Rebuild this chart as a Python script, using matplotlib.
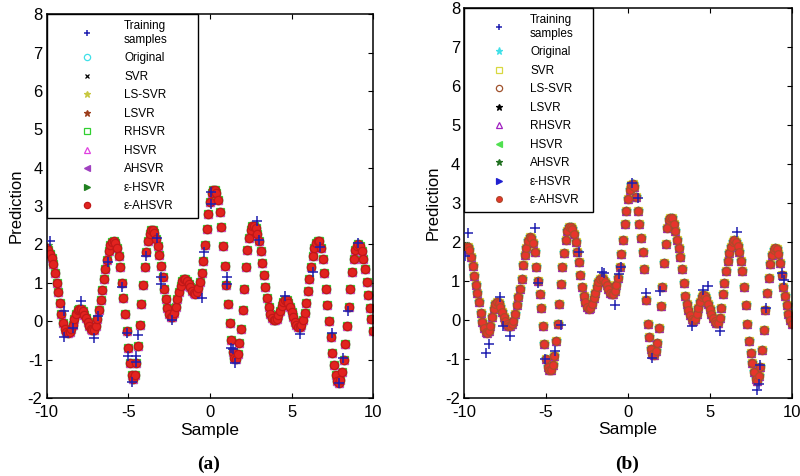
import numpy as np
import matplotlib
matplotlib.use('Agg')
import matplotlib.pyplot as plt

plt.rcParams['font.family'] = ['Liberation Sans', 'DejaVu Sans']
plt.rcParams['axes.unicode_minus'] = False

# predicted curve, panel (a), sampled every 0.1 from -10 to 10
y_a = [1.90, 1.85, 1.75, 1.65, 1.50, 1.25, 1.00, 0.75, 0.48, 0.20,
       -0.05, -0.20, -0.28, -0.30, -0.27, -0.20, -0.10, 0.05, 0.18, 0.28,
       0.33, 0.32, 0.26, 0.17, 0.08, -0.02, -0.12, -0.20, -0.24, -0.22,
       -0.12, 0.05, 0.28, 0.55, 0.82, 1.10, 1.35, 1.60, 1.82, 1.98,
       2.07, 2.10, 2.05, 1.90, 1.70, 1.40, 1.00, 0.60, 0.20, -0.25,
       -0.70, -1.10, -1.40, -1.50, -1.40, -1.10, -0.65, -0.10, 0.45, 0.95,
       1.40, 1.80, 2.10, 2.28, 2.37, 2.37, 2.30, 2.15, 1.95, 1.72,
       1.45, 1.15, 0.85, 0.58, 0.35, 0.20, 0.12, 0.12, 0.22, 0.38,
       0.58, 0.77, 0.93, 1.04, 1.10, 1.10, 1.05, 0.97, 0.88, 0.80,
       0.74, 0.72, 0.76, 0.86, 1.02, 1.25, 1.58, 1.98, 2.40, 2.80,
       3.12, 3.33, 3.42, 3.42, 3.35, 3.15, 2.85, 2.45, 1.95, 1.45,
       0.95, 0.45, -0.05, -0.50, -0.80, -0.95, -0.98, -0.85, -0.58, -0.20,
       0.30, 0.85, 1.40, 1.85, 2.18, 2.38, 2.47, 2.48, 2.42, 2.28,
       2.08, 1.82, 1.52, 1.20, 0.88, 0.60, 0.37, 0.20, 0.09, 0.03,
       0.02, 0.06, 0.15, 0.27, 0.40, 0.50, 0.55, 0.54, 0.47, 0.36,
       0.23, 0.10, -0.02, -0.10, -0.15, -0.16, -0.10, 0.03, 0.22, 0.48,
       0.78, 1.10, 1.42, 1.70, 1.92, 2.05, 2.10, 2.08, 1.92, 1.62,
       1.25, 0.85, 0.42, 0.00, -0.42, -0.82, -1.15, -1.40, -1.55, -1.60,
       -1.52, -1.32, -1.02, -0.60, -0.12, 0.38, 0.85, 1.28, 1.62, 1.85,
       1.97, 2.00, 1.95, 1.82, 1.62, 1.35, 1.02, 0.68, 0.35, 0.05,
       -0.25]

# predicted curve, panel (b)
y_b = [1.85, 1.88, 1.88, 1.80, 1.60, 1.38, 1.12, 0.90, 0.70, 0.45,
       0.18, -0.05, -0.20, -0.32, -0.35, -0.30, -0.15, 0.08, 0.28, 0.40,
       0.45, 0.42, 0.33, 0.20, 0.08, -0.02, -0.10, -0.15, -0.17, -0.12,
       -0.02, 0.15, 0.38, 0.58, 0.78, 1.05, 1.40, 1.65, 1.85, 2.02,
       2.12, 2.10, 1.98, 1.75, 1.35, 1.00, 0.65, 0.30, -0.15, -0.62,
       -1.00, -1.20, -1.30, -1.28, -1.15, -0.92, -0.55, -0.10, 0.40, 0.92,
       1.35, 1.72, 2.05, 2.28, 2.38, 2.38, 2.32, 2.20, 2.00, 1.75,
       1.48, 1.15, 0.85, 0.62, 0.45, 0.34, 0.28, 0.30, 0.40, 0.55,
       0.70, 0.85, 0.97, 1.05, 1.08, 1.05, 0.98, 0.88, 0.78, 0.70,
       0.66, 0.67, 0.75, 0.88, 1.08, 1.35, 1.68, 2.05, 2.45, 2.80,
       3.10, 3.32, 3.45, 3.48, 3.40, 3.15, 2.80, 2.45, 2.10, 1.75,
       1.30, 0.50, -0.10, -0.45, -0.75, -0.88, -0.90, -0.80, -0.60, -0.20,
       0.35, 0.85, 1.45, 1.95, 2.35, 2.55, 2.62, 2.60, 2.47, 2.27,
       2.05, 1.83, 1.60, 1.30, 0.95, 0.62, 0.40, 0.25, 0.12, 0.02,
       -0.03, 0.02, 0.15, 0.30, 0.45, 0.58, 0.64, 0.62, 0.53, 0.40,
       0.27, 0.15, 0.05, -0.04, -0.08, -0.08, 0.05, 0.30, 0.65, 0.95,
       1.25, 1.50, 1.72, 1.88, 2.00, 2.05, 2.00, 1.90, 1.75, 1.52,
       1.25, 0.85, 0.38, -0.10, -0.55, -0.85, -1.12, -1.35, -1.52, -1.58,
       -1.45, -1.20, -0.78, -0.25, 0.25, 0.68, 1.08, 1.42, 1.65, 1.80,
       1.85, 1.82, 1.70, 1.45, 1.15, 0.85, 0.60, 0.38, 0.15, 0.00,
       -0.12]

# noisy training samples that stick out of the curve
train_x_a = [-9.78, -8.92, -8.92, -8.37, -7.9, -7.08, -6.84, -6.27, -5.37, -5.08,
             -5.04, -4.8, -4.53, -4.53, -4.39, -3.94, -3.22, -3.0, -3.0, -2.35,
             -0.51, -0.37, 0.04, 0.04, 1.02, 1.02, 1.29, 1.43, 1.53, 2.9,
             3.0, 4.59, 5.5, 6.3, 6.73, 7.5, 7.9, 8.16, 8.45, 9.1]
train_y_a = [2.1, 0.27, -0.41, -0.19, 0.52, -0.43, 0.13, 1.55, 0.88, -0.32,
             -0.91, -1.58, -0.91, -1.06, -0.37, 1.7, 2.17, 1.16, 0.97, 0.02,
             0.61, 1.81, 3.06, 3.36, 1.14, 0.98, -0.69, -0.72, -1.09, 2.6,
             2.12, 0.65, -0.33, 1.29, 1.94, -0.32, -1.62, -0.96, 0.26, 2.05]

train_x_b = [-9.76, -9.96, -8.69, -8.47, -7.82, -7.61, -7.2, -5.71, -5.51, -5.06,
             -4.45, -4.08, -2.98, -1.59, -1.45, -0.82, -0.57, -0.41, 0.24, 0.63,
             1.12, 1.47, 1.98, 3.92, 4.59, 4.88, 5.61, 6.67, 7.9, 8.0,
             8.1, 8.45, 9.43, 9.53]
train_y_b = [2.23, 1.63, -0.85, -0.61, 0.59, -0.17, -0.41, 2.35, 0.94, -1.0,
             -0.81, -0.13, 1.74, 1.22, 1.2, 0.39, 1.17, 1.35, 3.52, 3.13,
             0.7, -0.99, 0.73, -0.17, 0.77, 0.86, -0.3, 2.25, -1.8, -1.66,
             -1.16, 0.3, 1.2, 1.03]

methods = ['Original', 'SVR', 'LS-SVR', 'LSVR', 'RHSVR', 'HSVR', 'AHSVR',
           '\u03b5-HSVR', '\u03b5-AHSVR']

# (marker, facecolor, edgecolor, size) for each method, in legend order
style_a = [('o', 'none', '#40e0e8', 6), ('x', 'k', 'k', 3), ('*', '#c8c840', '#c8c840', 6),
           ('*', '#9c3d1c', '#9c3d1c', 6), ('s', 'none', '#30d030', 5.8), ('^', 'none', '#e040e0', 5.5),
           ('<', '#a040c0', '#a040c0', 5), ('>', '#208020', '#208020', 5), ('o', '#e2231f', '#c01818', 6)]
style_b = [('*', '#40e0e8', '#40e0e8', 7), ('s', 'none', '#d8d840', 6), ('o', 'none', '#a0522d', 6),
           ('*', 'k', 'k', 6), ('^', 'none', '#a020c0', 6), ('<', '#50e050', '#50e050', 5),
           ('*', '#207020', '#207020', 6), ('>', '#2020d0', '#2020d0', 5), ('o', '#e8342c', '#b04a2a', 5.5)]

fig = plt.figure(figsize=(8, 4.76), dpi=100)
ax_a = fig.add_axes([0.0584, 0.164, 0.408, 0.806])
ax_b = fig.add_axes([0.5804, 0.1645, 0.409, 0.8185])

# axes, curve, training x/y, styles, tag, handlelength, handletextpad, legend width, tag x
panels = [(ax_a, y_a, train_x_a, train_y_a, style_a, '(a)', 5.8, 0.25, 0.462, 209 / 800),
          (ax_b, y_b, train_x_b, train_y_b, style_b, '(b)', 4.9, 0.17, 0.394, 627 / 800)]

for ax, ys, tx, ty, styles, tag, hl, htp, lw, tag_x in panels:
    xs = np.linspace(-10, 10, len(ys))
    handles = []
    for name, (mk, fc, ec, ms) in zip(methods, styles):
        h, = ax.plot(xs, ys, linestyle='none', marker=mk, markersize=ms,
                     markerfacecolor=fc, markeredgecolor=ec, markeredgewidth=0.9, label=name)
        handles.append(h)
    ht, = ax.plot(tx, ty, linestyle='none', marker='+', markersize=6.5, color='#1f1fb0',
                  markeredgewidth=1.1, label='Training\nsamples', zorder=5)
    handles = [ht] + handles

    ax.set_xlim(-10, 10)
    ax.set_ylim(-2, 8)
    ax.set_xticks([-10, -5, 0, 5, 10])
    ax.set_yticks(range(-2, 9))
    ax.tick_params(direction='in', top=True, right=True, length=3.5, width=0.8, labelsize=12)
    ax.tick_params(axis='x', pad=5)
    ax.tick_params(axis='y', pad=3)
    for sp in ax.spines.values():
        sp.set_linewidth(1.1)
    ax.set_xlabel('Sample', fontsize=12.5, labelpad=2)
    ax.set_ylabel('Prediction', fontsize=12, labelpad=3)

    leg = ax.legend(handles=handles, loc='upper left', bbox_to_anchor=(0, 0, lw, 1),
                    mode='expand', borderaxespad=0, markerscale=0.75,
                    fontsize=8.5, numpoints=1, handlelength=hl, handletextpad=htp,
                    borderpad=0.5, labelspacing=0.55, fancybox=False, framealpha=1)
    leg.get_frame().set_edgecolor('k')
    leg.get_frame().set_linewidth(1.0)
    for t in leg.get_texts():
        t.set_horizontalalignment('left')

    fig.text(tag_x, 1 - 464 / 476, tag, ha='center', va='center',
             fontsize=14, fontweight='bold', family='Liberation Serif')

plt.savefig('out.png', dpi=100)
